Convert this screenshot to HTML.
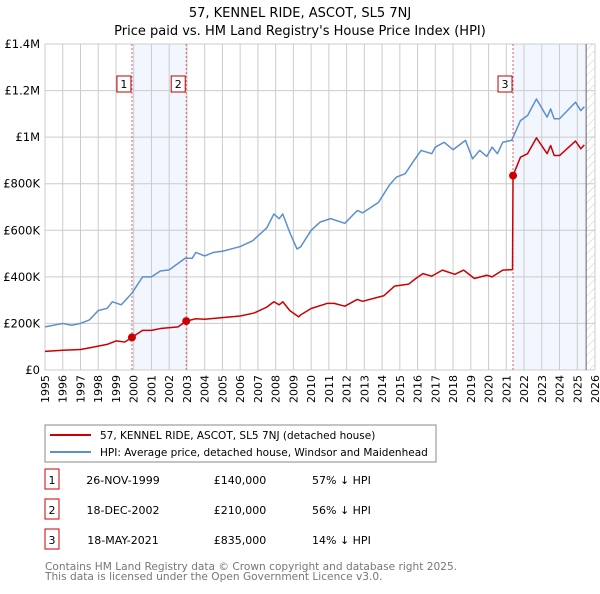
<!DOCTYPE html>
<html><head><meta charset="utf-8"><style>
body{margin:0;background:#fff;font-family:"DejaVu Sans","Liberation Sans",sans-serif;}
svg text{font-family:"DejaVu Sans","Liberation Sans",sans-serif;}
</style></head><body>
<svg id="chart" width="600" height="590" xmlns="http://www.w3.org/2000/svg">
<defs><pattern id="hatch" width="6" height="6" patternUnits="userSpaceOnUse" patternTransform="rotate(45)"><line x1="0" y1="0" x2="0" y2="6" stroke="#ccc" stroke-width="1"/></pattern></defs>
<text x="300" y="17" text-anchor="middle" font-size="13">57, KENNEL RIDE, ASCOT, SL5 7NJ</text>
<text x="300" y="35" text-anchor="middle" font-size="13">Price paid vs. HM Land Registry's House Price Index (HPI)</text>
<g id="bg"></g><g id="grid"></g><g id="marks"></g><g id="axes"></g>
<g>
<rect x="45" y="425" width="391" height="37" fill="#fff" stroke="#888"/>
<line x1="50" y1="435" x2="91" y2="435" stroke="#cc0000" stroke-width="2"/>
<text x="100" y="439" font-size="10.5">57, KENNEL RIDE, ASCOT, SL5 7NJ (detached house)</text>
<line x1="50" y1="452" x2="91" y2="452" stroke="#5b8fd0" stroke-width="2"/>
<text x="100" y="456" font-size="10.5">HPI: Average price, detached house, Windsor and Maidenhead</text>
</g>
<g id="table" font-size="11"></g>
<text x="45" y="570" font-size="10.6" fill="#777">Contains HM Land Registry data © Crown copyright and database right 2025.</text>
<text x="45" y="580" font-size="10.6" fill="#777">This data is licensed under the Open Government Licence v3.0.</text>
</svg>
<script>
const hpiYears=[1995,1996,1996.5,1997,1997.5,1998,1998.5,1998.8,1999.3,1999.9,2000.5,2001,2001.5,2002,2002.9,2003.3,2003.5,2004,2004.5,2005,2005.5,2006,2006.7,2007.5,2007.9,2008.2,2008.4,2008.8,2009.2,2009.4,2010,2010.5,2011.1,2011.9,2012.6,2012.9,2013.8,2014.4,2014.8,2015.3,2015.8,2016.2,2016.8,2017,2017.5,2018,2018.7,2019.1,2019.5,2019.9,2020.2,2020.5,2020.8,2021.3,2021.8,2022.2,2022.7,2023.3,2023.5,2023.7,2024,2024.9,2025.2,2025.4];
const hpiValues=[185,200,192,200,215,255,265,293,280,330,400,400,425,430,480,480,505,490,505,510,520,530,555,610,670,650,670,590,520,528,600,635,650,630,685,675,720,793,828,843,900,943,929,957,978,946,986,907,943,917,957,929,978,986,1071,1093,1164,1086,1121,1079,1079,1150,1114,1131];
const paidYears=[1995,1996,1997,1997.5,1998.5,1999,1999.5,1999.9,2000.5,2001,2001.5,2002.5,2002.96,2003.5,2004,2005,2006,2006.8,2007.5,2007.9,2008.2,2008.4,2008.8,2009.3,2009.4,2010,2010.9,2011.3,2011.9,2012.6,2012.9,2014.1,2014.7,2015.5,2015.9,2016.3,2016.8,2017.4,2018.1,2018.6,2019.2,2019.9,2020.2,2020.8,2021.35,2021.38,2021.8,2022.2,2022.7,2023.3,2023.5,2023.7,2024,2024.9,2025.2,2025.4];
const paidValues=[80,85,88,95,110,125,120,140,170,170,178,185,210,220,218,225,232,245,270,293,280,293,255,228,236,264,286,286,274,303,295,319,360,369,393,414,403,429,411,429,393,407,400,429,431,835,914,929,997,929,964,921,921,983,950,967];
const saleYears=[1999.9,2002.96,2021.38];
const saleValues=[140,210,835];
const saleLabels=["1","2","3"];
const saleDates=["26-NOV-1999","18-DEC-2002","18-MAY-2021"];
const salePrices=["£140,000","£210,000","£835,000"];
const saleDiffs=["57% ↓ HPI","56% ↓ HPI","14% ↓ HPI"];
const yTicks=[0,200,400,600,800,1000,1200,1400];
const yTickLabels=["£0","£200K","£400K","£600K","£800K","£1M","£1.2M","£1.4M"];
const xTicks=[1995,1996,1997,1998,1999,2000,2001,2002,2003,2004,2005,2006,2007,2008,2009,2010,2011,2012,2013,2014,2015,2016,2017,2018,2019,2020,2021,2022,2023,2024,2025,2026];
const dataEnd=2025.5;

const NS="http://www.w3.org/2000/svg";
const X0=45,X1=595,Y0=370,Y1=44;
const xs=y=>X0+(y-1995)/(2026-1995)*(X1-X0);
const ys=v=>Y0-v/1400*(Y0-Y1);
function mk(tag,attrs,parent,txt){const e=document.createElementNS(NS,tag);for(const k in attrs)e.setAttribute(k,attrs[k]);if(txt!==undefined)e.textContent=txt;parent.appendChild(e);return e;}
const bg=document.getElementById('bg'),grid=document.getElementById('grid'),marks=document.getElementById('marks'),axes=document.getElementById('axes'),table=document.getElementById('table');
let r=mk('rect',{x:xs(saleYears[0]),y:Y1,width:xs(saleYears[1])-xs(saleYears[0]),height:Y0-Y1,fill:'#f2f6fe'},bg);

r=mk('rect',{x:xs(saleYears[2]),y:Y1,width:xs(dataEnd)-xs(saleYears[2]),height:Y0-Y1,fill:'#f2f6fe'},bg);

r=mk('rect',{x:xs(dataEnd),y:Y1,width:X1-xs(dataEnd),height:Y0-Y1,fill:'url(#hatch)'},bg);

xTicks.forEach(t=>{mk('line',{x1:xs(t),x2:xs(t),y1:Y1,y2:Y0,stroke:'#ccc'},grid);
 const tx=mk('text',{x:0,y:0,'font-size':11,'text-anchor':'end',transform:`translate(${xs(t)+4},${Y0+5}) rotate(-90)`},axes,String(t));
 });
yTicks.forEach((t,i)=>{mk('line',{x1:X0,x2:X1,y1:ys(t),y2:ys(t),stroke:'#ccc'},grid);
 const tx=mk('text',{x:X0-5,y:ys(t)+4,'font-size':11.5,'text-anchor':'end'},axes,yTickLabels[i]);
 });
let l=mk('line',{x1:xs(dataEnd),x2:xs(dataEnd),y1:Y1,y2:Y0,stroke:'#666'},grid);

saleYears.forEach((s,i)=>{const v=mk('line',{x1:xs(s),x2:xs(s),y1:Y1,y2:Y0,stroke:'#e06060','stroke-dasharray':'2,2'},grid);
 
 const b=mk('rect',{x:xs(s)-15,y:76,width:14,height:16,fill:'#fff',stroke:'#b00'},grid);
 
 mk('text',{x:xs(s)-8,y:88,'font-size':11,'text-anchor':'middle'},grid,saleLabels[i]);});
const line=(xa,va,c,n)=>{const p=mk('polyline',{points:xa.map((y,i)=>xs(y)+','+ys(va[i])).join(' '),fill:'none',stroke:c,'stroke-width':1.5,'stroke-linejoin':'round'},marks);
 };
line(hpiYears,hpiValues,'#5b8fd0','hpi-line');
line(paidYears,paidValues,'#cc0000','price-paid-line');
saleYears.forEach((s,i)=>{const c=mk('circle',{cx:xs(s),cy:ys(saleValues[i]),r:4,fill:'#cc0000'},marks);
 });
saleLabels.forEach((lab,i)=>{const y=483+i*30;
 const b=mk('rect',{x:45,y:y-14,width:14,height:20,fill:'#fff',stroke:'#c00'},table);
 
 mk('text',{x:52,y:y+1,'text-anchor':'middle'},table,lab);
 const d=mk('text',{x:123,y:y+1,'text-anchor':'middle'},table,saleDates[i]);
 
 const p=mk('text',{x:240,y:y+1,'text-anchor':'middle'},table,salePrices[i]);
 
 const h=mk('text',{x:312,y:y+1},table,saleDiffs[i]);
 });
</script>
</body></html>
